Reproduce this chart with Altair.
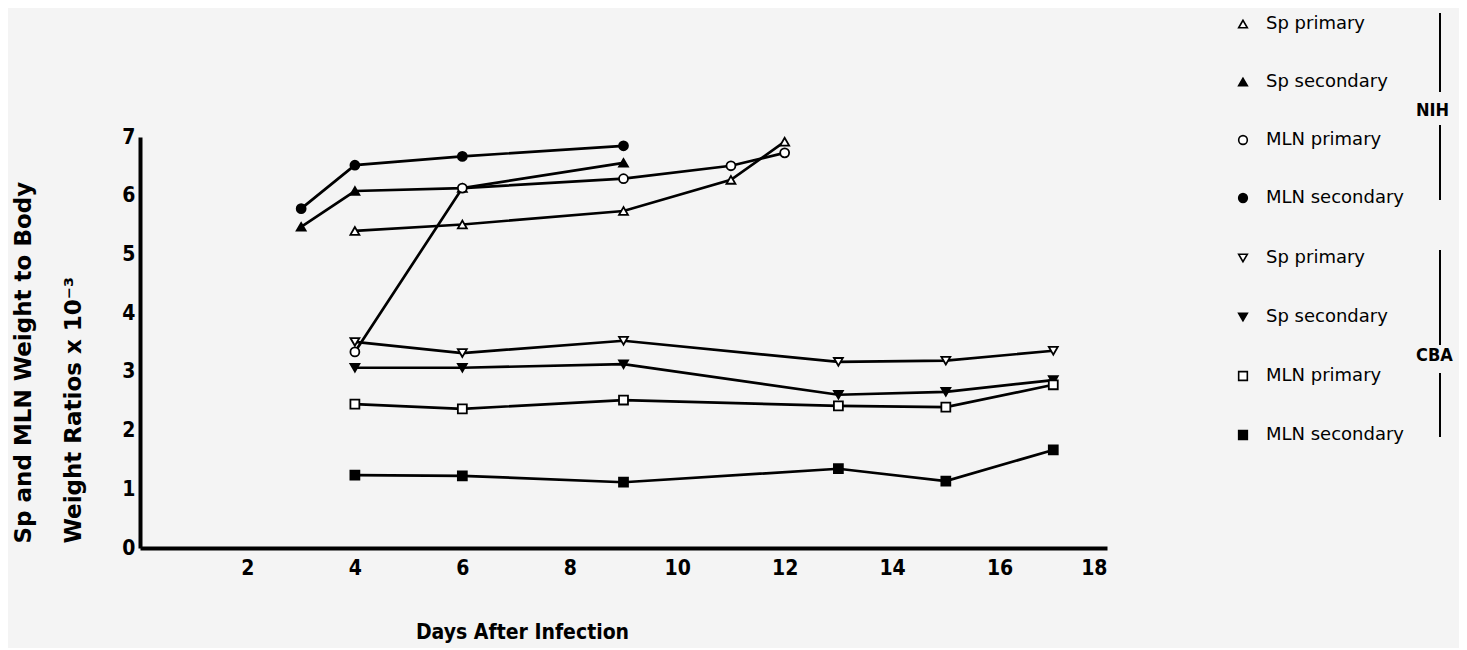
import altair as alt
import pandas as pd

# ---- data ----
nih_sp_primary_days = [4, 6, 9, 11, 12]
nih_sp_primary_vals = [5.40, 5.51, 5.74, 6.27, 6.92]
nih_sp_secondary_days = [3, 4, 6, 9]
nih_sp_secondary_vals = [5.47, 6.08, 6.13, 6.56]
nih_mln_primary_days = [4, 6, 9, 11, 12]
nih_mln_primary_vals = [3.34, 6.13, 6.29, 6.51, 6.73]
nih_mln_secondary_days = [3, 4, 6, 9]
nih_mln_secondary_vals = [5.78, 6.52, 6.67, 6.85]

cba_days = [4, 6, 9, 13, 15, 17]
cba_sp_primary_vals = [3.51, 3.32, 3.53, 3.17, 3.19, 3.36]
cba_sp_secondary_vals = [3.07, 3.07, 3.13, 2.61, 2.66, 2.86]
cba_mln_primary_vals = [2.45, 2.37, 2.52, 2.42, 2.40, 2.78]
cba_mln_secondary_vals = [1.24, 1.23, 1.12, 1.35, 1.14, 1.67]

series_names = ["Sp primary", "Sp secondary", "MLN primary", "MLN secondary"]
x_tick_values = [2, 4, 6, 8, 10, 12, 14, 16, 18]
y_tick_values = [0, 1, 2, 3, 4, 5, 6, 7]

nih_shapes = ["triangle-up", "triangle-up", "circle", "circle"]
cba_shapes = ["triangle-down", "triangle-down", "square", "square"]
fills = ["white", "black", "white", "black"]
strokes = ["black", "black", "black", "black"]


def long_table(group, pairs):
    rows = []
    for name, (days, vals) in zip(series_names, pairs):
        for d, v in zip(days, vals):
            rows.append({"day": d, "value": v, group: name})
    return pd.DataFrame(rows)


df_nih = long_table("NIH", [
    (nih_sp_primary_days, nih_sp_primary_vals),
    (nih_sp_secondary_days, nih_sp_secondary_vals),
    (nih_mln_primary_days, nih_mln_primary_vals),
    (nih_mln_secondary_days, nih_mln_secondary_vals),
])
df_cba = long_table("CBA", [
    (cba_days, cba_sp_primary_vals),
    (cba_days, cba_sp_secondary_vals),
    (cba_days, cba_mln_primary_vals),
    (cba_days, cba_mln_secondary_vals),
])

COND = "DejaVu Sans Condensed"

x_enc = alt.X(
    "day:Q",
    scale=alt.Scale(domain=[0, 18], nice=False),
    axis=alt.Axis(
        values=x_tick_values, grid=False, ticks=False,
        domainColor="black", domainWidth=4,
        labelFont=COND, labelFontWeight="bold", labelFontSize=21,
        labelColor="black", labelPadding=9,
        title="Days After Infection", titleFont=COND, titleFontWeight="bold",
        titleFontSize=21, titleColor="black",
        titleX=382, titleY=84, titleAlign="center", titleBaseline="middle",
    ),
)
y_enc = alt.Y(
    "value:Q",
    scale=alt.Scale(domain=[0, 7], nice=False),
    axis=alt.Axis(
        values=y_tick_values, grid=False, ticks=False,
        domainColor="black", domainWidth=4,
        labelFont=COND, labelFontWeight="bold", labelFontSize=21,
        labelColor="black", labelPadding=5,
        title=["Sp and MLN Weight to Body", "Weight Ratios x 10\u207b\u00b3"],
        titleFont="DejaVu Sans", titleFontWeight="bold", titleFontSize=23,
        titleColor="black", titleAngle=270, titleAlign="left",
        titleBaseline="alphabetic", titleLineHeight=50,
        titleX=-110, titleY=406,
    ),
)


def legend(title, lx, ly, row_pad, title_baseline):
    return alt.Legend(
        title=title, orient="none", legendX=lx, legendY=ly,
        titleOrient="right", titleAnchor="middle", titlePadding=12,
        titleBaseline=title_baseline,
        titleFont=COND, titleFontWeight="bold", titleFontSize=18,
        titleColor="black",
        labelFont="DejaVu Sans", labelFontSize=18, labelColor="black",
        labelOffset=14, rowPadding=row_pad, padding=0,
        symbolSize=75, symbolStrokeColor="black", symbolStrokeWidth=1.6,
        symbolOpacity=1,
    )


def group_layer(df, field, shapes, lx, ly, row_pad, title_baseline):
    base = alt.Chart(df)
    lines = base.mark_line(color="black", strokeWidth=2.7).encode(
        x=x_enc, y=y_enc, detail=f"{field}:N", order="day:Q"
    )
    leg = legend(field, lx, ly, row_pad, title_baseline)
    points = base.mark_point(
        filled=True, size=80, strokeWidth=1.8, opacity=1
    ).encode(
        x=x_enc, y=y_enc,
        shape=alt.Shape(f"{field}:N", scale=alt.Scale(domain=series_names, range=shapes), legend=leg),
        fill=alt.Fill(f"{field}:N", scale=alt.Scale(domain=series_names, range=fills), legend=leg),
        stroke=alt.Stroke(f"{field}:N", scale=alt.Scale(domain=series_names, range=strokes), legend=leg),
    )
    return lines + points


nih = group_layer(df_nih, "NIH", nih_shapes, 1094, -122, 40, "middle")
cba = group_layer(df_cba, "CBA", cba_shapes, 1094, 112, 41, "top")

# bracket lines beside the group labels
bracket_base = alt.Chart(pd.DataFrame({"k": [0]}))
brackets = alt.layer(*[
    bracket_base.mark_rule(color="black", strokeWidth=2).encode(
        x=alt.value(1300), y=alt.value(a), y2=alt.value(b)
    )
    for a, b in [(-124, -45), (-12, 63), (113, 208), (236, 300)]
])

chart = (
    alt.layer(nih, cba, brackets)
    .resolve_scale(shape="independent", fill="independent", stroke="independent")
    .properties(
        width=967, height=411,
        autosize=alt.AutoSizeParams(type="none"),
        padding={"left": 132, "top": 129, "right": 352, "bottom": 100},
        background="#f4f4f4",
    )
    .configure_view(stroke=None)
)

chart.save("out.html", embed_options={"renderer": "svg", "actions": False})
